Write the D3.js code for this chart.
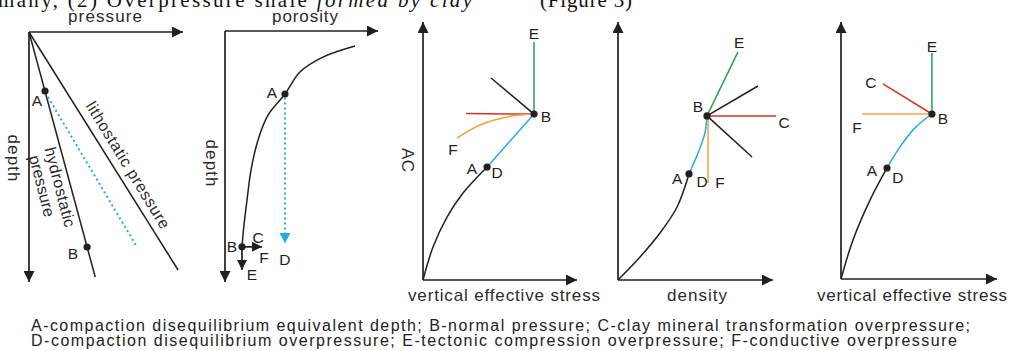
<!DOCTYPE html>
<html>
<head>
<meta charset="utf-8">
<script src="https://cdn.jsdelivr.net/npm/d3@7"></script>
<style>
  html, body { margin: 0; padding: 0; background: #fff; }
  svg { display: block; font-family: "Liberation Sans", Arial, sans-serif; }
</style>
</head>
<body>
<svg id="chart" width="1010" height="351"></svg>
<script>
// ---- data (abstract units, 0..100 along each axis) ----

// panel 1: pressure vs depth
const hydroLine = [[0, 0], [43, 98]];
const lithoLine = [[0, 0], [96.8, 95.2]];
const p1Dotted = [[12.3, 26], [70.1, 86]];
const p1Points = [{k: "A", p: [10.4, 23.6]}, {k: "B", p: [37.7, 86]}];

// panel 2: porosity vs depth
const porosityCurve = [[85, 6], [64, 10.4], [49, 16.3], [39.2, 25.1], [28.1, 33.5],
    [21.6, 43.4], [17, 55.4], [14.4, 67.3], [12.4, 77.3], [11.1, 86]];
const p2Points = [{k: "A", p: [39.2, 25.1]}, {k: "B", p: [11.1, 86]}];
const p2Arrows = [[[11.1, 86], [24.2, 86]], [[11.1, 86], [11.1, 95.2]]];
const p2Dotted = [[39.2, 26.5], [39.2, 84.5]];

// panel 3: AC vs vertical effective stress
const p3Normal = [[0, 0], [6.5, 12.8], [15.6, 24.4], [26, 33.7], [41.6, 43.8]];
const p3D = [[41.6, 43.8], [72.1, 64.3]];
const p3E = [[72.1, 64.3], [72.1, 92.2]];
const p3Other = [[72.1, 64.3], [44.2, 78.3]];
const p3C = [[72.1, 64.3], [27.9, 64.5]];
const p3F = [[72.1, 64.3], [54.5, 63.2], [37, 60.1], [22.1, 55]];
const p3Points = [{k: "A", p: [41.6, 43.8]}, {k: "B", p: [72.1, 64.3]}];

// panel 4: density
const p4Normal = [[0, 0], [14.2, 8.9], [27.1, 18.2], [38.1, 28.3], [45.8, 41.1]];
const p4D = [[45.8, 41.1], [51.6, 49.2], [56.1, 57], [57.4, 63.6]];
const p4E = [[57.4, 63.6], [77.4, 88.4]];
const p4OtherUp = [[57.4, 63.6], [90.3, 75.2]];
const p4OtherDown = [[57.4, 63.6], [86.5, 47.7]];
const p4C = [[57.4, 63.6], [101.9, 63.6]];
const p4F = [[58.1, 63.6], [58.1, 37.6]];
const p4Points = [{k: "A", p: [45.8, 41.1]}, {k: "B", p: [57.4, 63.6]}];

// panel 5: vertical effective stress
const p5Normal = [[0, 0], [7.7, 15.2], [18.6, 30.7], [29.5, 43.2]];
const p5D = [[29.5, 43.2], [37.8, 51.4], [47.4, 58.8], [58.3, 64.2]];
const p5E = [[58.3, 64.2], [58.3, 87.9]];
const p5C = [[58.3, 64.2], [26.9, 75.9]];
const p5F = [[58.3, 64.2], [13.5, 64.2]];
const p5Points = [{k: "A", p: [29.5, 43.2]}, {k: "B", p: [58.3, 64.2]}];

// letter annotations (data units)
const p1Labels = [["A", 5.2, 27.2], ["B", 28.6, 88.4]];
const p2Labels = [["A", 30.7, 24.7], ["B", 4.6, 86], ["C", 21.6, 82.1],
    ["F", 25.5, 90.4], ["E", 17.6, 97.2], ["D", 39.2, 91.2]];
const p3Labels = [["E", 72.1, 95.7], ["B", 79.9, 63.2], ["F", 19.5, 50.4],
    ["A", 31.8, 43.4], ["D", 48.1, 41.5]];
const p4Labels = [["E", 78.1, 91.9], ["B", 51.6, 67.1], ["C", 107.1, 60.9],
    ["A", 38.1, 39.5], ["D", 54.2, 38], ["F", 65.8, 37.6]];
const p5Labels = [["E", 58.3, 90.3], ["C", 19.2, 76.6], ["F", 10.3, 58.8],
    ["B", 65.4, 62.6], ["A", 19.9, 42.4], ["D", 36.5, 39.3]];

const captionLines = [
    "A-compaction disequilibrium equivalent depth; B-normal pressure; C-clay mineral transformation overpressure;",
    "D-compaction disequilibrium overpressure; E-tectonic compression overpressure; F-conductive overpressure"
];

// ---- drawing ----
const C = {
    black: "#231f20", blue: "#27aae1", green: "#2ba24c",
    red: "#d2352b", orange: "#f2a445", text: "#2b2b2b"
};

const svg = d3.select("#chart");
const defs = svg.append("defs");

function marker(id, color, len, half) {
    defs.append("marker")
        .attr("id", id)
        .attr("markerUnits", "userSpaceOnUse")
        .attr("viewBox", `0 ${-half} ${len} ${half * 2}`)
        .attr("markerWidth", len).attr("markerHeight", half * 2)
        .attr("refX", len).attr("refY", 0)
        .attr("orient", "auto")
        .append("path")
        .attr("d", `M0,${-half}L${len},0L0,${half}Z`)
        .attr("fill", color);
}
marker("arr", C.black, 11, 5.5);
marker("arrSmall", C.black, 10, 5);
marker("arrBlue", C.blue, 10, 5.5);

// text line of the page above the figure, cut off by the frame
const serif = "'Liberation Serif', 'Times New Roman', serif";
const headText = svg.append("text")
    .attr("x", -2).attr("y", 7)
    .attr("font-family", serif).attr("font-size", 21)
    .attr("textLength", 474).attr("lengthAdjust", "spacing")
    .attr("fill", "#111");
headText.append("tspan").text("many, (2) Overpressure shale ");
headText.append("tspan").attr("font-style", "italic").text("formed by clay");
svg.append("text")
    .attr("x", 540).attr("y", 7)
    .attr("font-family", serif).attr("font-size", 21)
    .attr("textLength", 92).attr("lengthAdjust", "spacing")
    .attr("fill", "#111")
    .text("(Figure 3)");

// panel frame: x range, y range in pixels
function makePanel(xr, yr) {
    const g = svg.append("g");
    const x = d3.scaleLinear().domain([0, 100]).range(xr);
    const y = d3.scaleLinear().domain([0, 100]).range(yr);
    const line = d3.line().x(d => x(d[0])).y(d => y(d[1]));
    const curve = d3.line().x(d => x(d[0])).y(d => y(d[1])).curve(d3.curveCatmullRom.alpha(0.5));
    return {g, x, y, line, curve};
}

function path(P, data, color, opts = {}) {
    const p = P.g.append("path")
        .attr("d", (opts.curve ? P.curve : P.line)(data))
        .attr("fill", "none")
        .attr("stroke", color)
        .attr("stroke-width", opts.width || 1.5);
    if (opts.dash) p.attr("stroke-dasharray", opts.dash);
    if (opts.marker) p.attr("marker-end", `url(#${opts.marker})`);
    return p;
}

function axes(P) {
    path(P, [[0, 0], [100, 0]], C.black, {width: 1.7, marker: "arr"});
    path(P, [[0, 0], [0, 100]], C.black, {width: 1.7, marker: "arr"});
}

function dots(P, pts) {
    P.g.selectAll(null).data(pts).enter().append("circle")
        .attr("cx", d => P.x(d.p[0])).attr("cy", d => P.y(d.p[1]))
        .attr("r", 3.6).attr("fill", C.black);
}

function letters(P, labels) {
    P.g.selectAll(null).data(labels).enter().append("text")
        .attr("x", d => P.x(d[1])).attr("y", d => P.y(d[2]))
        .attr("text-anchor", "middle").attr("dominant-baseline", "central")
        .attr("font-size", 15.5).attr("fill", C.black)
        .text(d => d[0]);
}

function label(txt, x, y, len, angle = 0, size = 17) {
    svg.append("text")
        .attr("transform", `translate(${x},${y}) rotate(${angle})`)
        .attr("text-anchor", "middle")
        .attr("dominant-baseline", angle ? "central" : "auto")
        .attr("font-size", size).attr("fill", C.text)
        .attr("textLength", len).attr("lengthAdjust", "spacing")
        .text(txt);
}

// panel 1
const P1 = makePanel([29, 183], [32, 282]);
axes(P1);
path(P1, hydroLine, C.black);
path(P1, lithoLine, C.black);
path(P1, p1Dotted, C.blue, {width: 2, dash: "2,3"});
dots(P1, p1Points);
letters(P1, p1Labels);
label("pressure", 105, 22, 74);
label("depth", 13, 158, 47, 90);
label("lithostatic pressure", 128, 165, 146, 58.5, 16);
label("hydrostatic", 60, 187, 82, 75.5, 16);
label("pressure", 42, 186, 63, 75.5, 16);

// panel 2
const P2 = makePanel([225, 378], [31, 282]);
axes(P2);
path(P2, porosityCurve, C.black, {curve: true});
p2Arrows.forEach(a => path(P2, a, C.black, {width: 1.7, marker: "arrSmall"}));
path(P2, p2Dotted, C.blue, {width: 2, dash: "2,3", marker: "arrBlue"});
dots(P2, p2Points);
letters(P2, p2Labels);
label("porosity", 305, 22, 66);
label("depth", 211, 163, 47, 90);

// panel 3
const P3 = makePanel([423, 577], [280, 22]);
axes(P3);
path(P3, p3Normal, C.black, {curve: true});
path(P3, p3D, C.blue);
path(P3, p3E, C.green);
path(P3, p3Other, C.black);
path(P3, p3C, C.red);
path(P3, p3F, C.orange, {curve: true});
dots(P3, p3Points);
letters(P3, p3Labels);
label("vertical effective stress", 504, 301, 192);
label("AC", 407, 160, 24, 90);

// panel 4
const P4 = makePanel([618, 773], [280, 22]);
axes(P4);
path(P4, p4Normal, C.black, {curve: true});
path(P4, p4D, C.blue, {curve: true});
path(P4, p4E, C.green);
path(P4, p4OtherUp, C.black);
path(P4, p4OtherDown, C.black);
path(P4, p4C, C.red);
path(P4, p4F, C.orange);
dots(P4, p4Points);
letters(P4, p4Labels);
label("density", 697, 301, 60);

// panel 5
const P5 = makePanel([841, 997], [279, 22]);
axes(P5);
path(P5, p5Normal, C.black, {curve: true});
path(P5, p5D, C.blue, {curve: true});
path(P5, p5E, C.green);
path(P5, p5C, C.red);
path(P5, p5F, C.orange);
dots(P5, p5Points);
letters(P5, p5Labels);
label("vertical effective stress", 912, 301, 190);

// caption
svg.selectAll(".cap").data(captionLines).enter().append("text")
    .attr("class", "cap")
    .attr("x", 31).attr("y", (d, i) => 331 + i * 15)
    .attr("font-size", 16).attr("fill", "#222")
    .attr("textLength", (d, i) => i === 0 ? 939 : 926)
    .attr("lengthAdjust", "spacing")
    .text(d => d);
</script>
</body>
</html>
